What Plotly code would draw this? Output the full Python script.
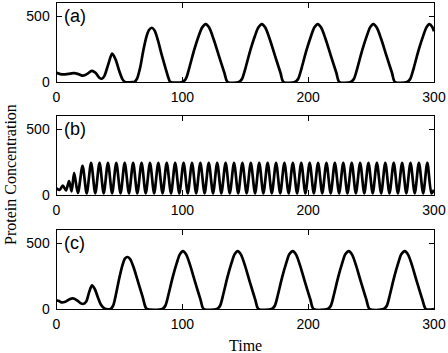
import plotly.graph_objects as go

# ---- data ----
time_a = [0, 3, 7, 11, 14, 18, 21, 25, 28, 31, 34, 36, 38, 41, 44.2, 47, 50, 52.5, 54.5, 61.5,
          62, 64, 66.5, 69, 71.5, 73.5, 75.8, 78, 80.5, 83.5, 86.5, 89, 90.5, 100,
          102.8, 105.6, 109.3, 113, 115.8, 118.6, 121.2, 124.7, 129, 133.4, 136, 145,
          147.5, 150.3, 154, 157.7, 160.5, 163.2, 165.8, 169.3, 173.6, 178, 180.4, 189.5,
          192.1, 194.9, 198.6, 202.3, 205, 207.6, 210.2, 213.7, 218, 222.4, 224.8, 233.8,
          236.4, 239.2, 242.9, 246.6, 249.2, 251.8, 254.4, 257.9, 262.2, 266.6, 269, 278.6,
          281.2, 284, 287.7, 291.4, 294, 296.3, 298.5, 300]
conc_a = [70, 60, 58, 64, 68, 58, 48, 65, 85, 70, 32, 25, 45, 130, 215, 170, 80, 20, 0, 0,
          0, 25, 110, 240, 345, 395, 412, 390, 320, 210, 110, 30, 0, 0,
          25, 110, 240, 350, 415, 440, 415, 330, 200, 70, 0, 0,
          25, 110, 240, 350, 415, 440, 415, 330, 200, 70, 0, 0,
          25, 110, 240, 350, 415, 440, 415, 330, 200, 70, 0, 0,
          25, 110, 240, 350, 415, 440, 415, 330, 200, 70, 0, 0,
          25, 110, 240, 350, 415, 440, 420, 385]

time_b = [0, 2.5, 5, 7.5, 10, 12, 14, 17, 20.7, 24,
          27.5, 30.8, 34.2, 37.5, 40.9, 44.2, 47.5, 50.9, 54.2, 57.6, 60.9, 64.2,
          67.6, 70.9, 74.3, 77.6, 80.9, 84.3, 87.6, 91.0, 94.3, 97.6, 101.0, 104.3,
          107.7, 111.0, 114.3, 117.7, 121.0, 124.4, 127.7, 131.0, 134.4, 137.7,
          141.1, 144.4, 147.7, 151.1, 154.4, 157.8, 161.1, 164.4, 167.8, 171.1,
          174.5, 177.8, 181.1, 184.5, 187.8, 191.2, 194.5, 197.8, 201.2, 204.5,
          207.9, 211.2, 214.5, 217.9, 221.2, 224.6, 227.9, 231.2, 234.6, 237.9,
          241.3, 244.6, 247.9, 251.3, 254.6, 258.0, 261.3, 264.6, 268.0, 271.3,
          274.7, 278.0, 281.3, 284.7, 288.0, 291.4, 294.7, 298.0, 300]
conc_b = [50, 38, 72, 35, 105, 28, 168, 15, 222, 12,
          245, 12, 245, 12, 245, 12, 245, 12, 245, 12, 245, 12,
          245, 12, 245, 12, 245, 12, 245, 12, 245, 12, 245, 12,
          245, 12, 245, 12, 245, 12, 245, 12, 245, 12,
          245, 12, 245, 12, 245, 12, 245, 12, 245, 12,
          245, 12, 245, 12, 245, 12, 245, 12, 245, 12,
          245, 12, 245, 12, 245, 12, 245, 12, 245, 12,
          245, 12, 245, 12, 245, 12, 245, 12, 245, 12,
          245, 12, 245, 12, 245, 12, 245, 12, 40]

time_c = [0, 2, 4, 7, 10, 13, 16, 19, 21, 23.5, 26, 28.2, 30.5, 33, 35.5, 38, 39.5, 43,
          45, 47, 49.8, 52.5, 54.5, 56.5, 58.5, 61.5, 65, 68.5, 70.5, 71.8, 84,
          86.5, 89, 92.3, 95.6, 98, 100.5, 103, 106.3, 110.3, 114.5, 117, 127.5,
          130, 132.5, 135.8, 139.1, 141.5, 144, 146.5, 149.8, 153.8, 158, 160.5, 171,
          173.5, 176, 179.3, 182.6, 185, 187.8, 190.3, 193.6, 197.6, 201.8, 204.3, 215.5,
          218, 220.5, 223.8, 227.1, 229.5, 232.3, 234.8, 238.1, 242.1, 246.3, 248.8, 260,
          262.5, 265, 268.3, 271.6, 274, 276.8, 279.3, 282.6, 286.6, 290.8, 293.5, 300]
conc_c = [65, 60, 50, 55, 72, 80, 68, 45, 38, 55, 130, 180, 150, 85, 30, 5, 0, 0,
          25, 100, 230, 335, 385, 395, 380, 310, 200, 90, 20, 0, 0,
          25, 110, 240, 350, 415, 440, 415, 330, 200, 70, 0, 0,
          25, 110, 240, 350, 415, 440, 415, 330, 200, 70, 0, 0,
          25, 110, 240, 350, 415, 440, 415, 330, 200, 70, 0, 0,
          25, 110, 240, 350, 415, 440, 415, 330, 200, 70, 0, 0,
          25, 110, 240, 350, 415, 440, 415, 330, 200, 70, 0, 0]

x_ticks = [0, 100, 200, 300]
y_ticks = [0, 500]
panel_labels = ["(a)", "(b)", "(c)"]
x_title = "Time"
y_title = "Protein Concentration"

# ---- layout geometry (pixels) ----
W, H = 448, 353
left_px, right_px = 56.5, 434
panels_px = [(3, 82), (116, 195), (230, 309)]  # (top, bottom)

fig = go.Figure()
series = [(time_a, conc_a), (time_b, conc_b), (time_c, conc_c)]
for i, (t, c) in enumerate(series):
    n = "" if i == 0 else str(i + 1)
    fig.add_trace(go.Scatter(x=t, y=c, mode="lines",
                             line=dict(color="black", width=2.7, shape="spline", smoothing=0.8),
                             xaxis="x" + n, yaxis="y" + n, showlegend=False, cliponaxis=True,
                             hoverinfo="skip"))
    top, bot = panels_px[i]
    axis_common = dict(showline=True, linecolor="black", linewidth=1, mirror="ticks",
                       ticks="inside", ticklen=5, tickcolor="black", showgrid=False,
                       zeroline=False, automargin=False, fixedrange=True,
                       tickfont=dict(family="Liberation Sans, Arial", size=14, color="black"))
    fig.layout["xaxis" + n] = dict(axis_common, domain=[left_px / W, right_px / W],
                                   range=[0, 300], tickvals=x_ticks, anchor="y" + n,
                                   ticklabelstandoff=2)
    fig.layout["yaxis" + n] = dict(axis_common, domain=[(H - bot) / H, (H - top) / H],
                                   range=[0, 600], tickvals=y_ticks, anchor="x" + n,
                                   ticklabelstandoff=3)
    fig.add_annotation(text=panel_labels[i], xref="paper", yref="paper",
                       x=62 / W, y=(H - top - 13) / H, xanchor="left", yanchor="middle",
                       showarrow=False,
                       font=dict(family="Liberation Sans, Arial", size=18, color="black"))

fig.add_annotation(text=x_title, xref="paper", yref="paper",
                   x=(left_px + right_px) / 2 / W, y=(H - 345) / H,
                   xanchor="center", yanchor="middle", showarrow=False,
                   font=dict(family="Liberation Serif, Times New Roman", size=16, color="black"))
fig.add_annotation(text=y_title, xref="paper", yref="paper",
                   x=10 / W, y=(H - 175) / H, textangle=-90,
                   xanchor="center", yanchor="middle", showarrow=False,
                   font=dict(family="Liberation Serif, Times New Roman", size=16, color="black"))

fig.update_layout(width=W, height=H, margin=dict(l=0, r=0, t=0, b=0),
                  paper_bgcolor="white", plot_bgcolor="white", template="none",
                  hovermode=False)
fig.write_html("out.html", config={"displayModeBar": False},
               post_script="document.body.style.margin='0';document.body.style.padding='0';")
